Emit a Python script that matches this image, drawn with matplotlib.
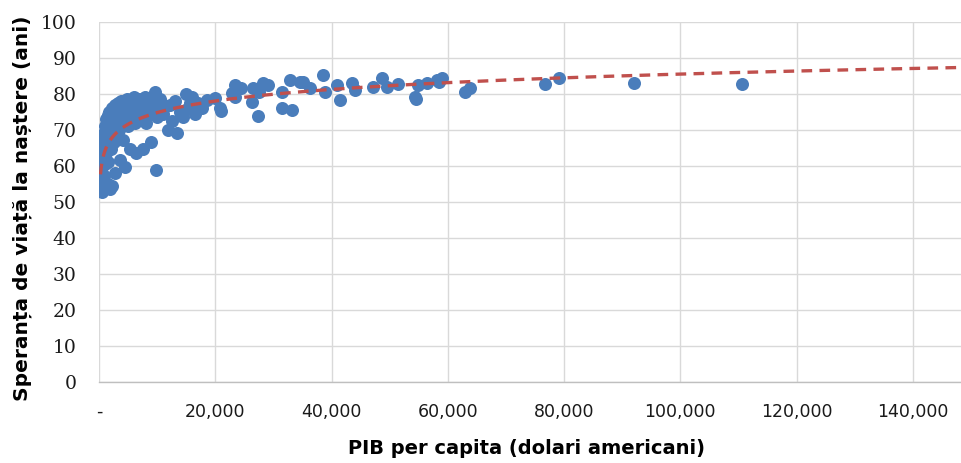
import numpy as np
import matplotlib
matplotlib.use("Agg")
import matplotlib.pyplot as plt
from matplotlib.ticker import FuncFormatter

# PIB per capita (USD) si speranta de viata (ani)
pib = [
    250, 300, 400, 450, 500, 550, 600, 650, 700, 750, 800, 850, 900, 950,
    1000, 1050, 1100, 1150, 1200, 1300, 1350, 1400, 1450, 1500, 1550, 1600,
    1700, 1800, 1900, 1950, 2000, 2100, 2200, 2300, 2400, 2500, 2600, 2700,
    2800, 2900, 3000, 3100, 600, 1000, 1500, 900,
    3200, 3400, 3500, 3600, 3700, 3800, 4000, 4100, 4200, 4400, 4500, 4600,
    4800, 5000, 5200, 5400, 5500, 5600, 5800, 6000, 6200, 6300, 6500, 6700,
    6900, 7100, 7300, 7500, 7700, 7900, 8100, 8300, 8500, 8800, 9000, 9200,
    9400, 9600, 9800, 10000, 10200,
    10500, 11000, 11500, 11800, 12200, 12500, 13000, 13400, 14000, 14400,
    15000, 15300, 15600, 16000, 16500, 17000, 17700, 18600, 20000, 20800, 21000,
    22900, 23400, 23400, 24500, 26300, 26500, 27300, 27500, 28200, 29000,
    31500, 31500, 33200, 32900, 34600,
    35100, 36300, 38500, 38900, 40900, 41400, 43500, 44000, 47200, 48600,
    49500, 51400, 54300, 54600, 54900, 56400, 58100, 59000, 58500, 63000, 63800,
    76700, 79100, 92000, 110600,
]
speranta = [
    61.5, 53.0, 54.5, 58.0, 63.0, 66.0, 60.0, 67.5, 55.5, 64.0, 69.0, 62.0, 57.0, 65.5,
    71.0, 60.5, 67.0, 73.0, 63.5, 69.5, 54.0, 72.0, 65.0, 74.0, 61.0, 70.5,
    67.5, 75.0, 53.5, 72.5, 64.5, 69.0, 76.0, 54.4, 71.5, 74.0, 66.5, 77.0,
    58.0, 73.0, 69.5, 75.5, 52.8, 54.0, 55.0, 55.5,
    77.5, 70.0, 76.0, 61.5, 73.5, 78.0, 75.0, 67.0, 72.0, 76.5, 59.5, 74.0,
    78.5, 71.0, 76.0, 64.5, 73.0, 77.5, 75.0, 79.0, 72.0, 63.5, 76.5, 74.5,
    78.5, 73.0, 77.0, 64.5, 75.5, 79.0, 72.0, 76.5, 74.0, 78.0, 66.5, 75.0,
    77.0, 80.5, 58.8, 73.5, 76.0,
    78.5, 74.5, 76.5, 70.0, 77.0, 72.5, 78.0, 69.0, 75.0, 73.5,
    80.0, 76.0, 77.5, 79.0, 74.5, 77.5, 76.0, 78.2, 78.8, 76.0, 75.3,
    80.2, 82.4, 79.1, 81.5, 77.7, 81.6, 73.8, 80.5, 83.0, 82.5,
    80.5, 76.0, 75.5, 83.8, 83.2,
    83.2, 81.6, 85.2, 80.5, 82.4, 78.2, 83.0, 81.0, 81.8, 84.4,
    81.8, 82.8, 79.0, 78.5, 82.4, 83.0, 83.8, 84.4, 83.3, 80.5, 81.6,
    82.7, 84.3, 83.0, 82.7,
]

x_ticks = [0, 20000, 40000, 60000, 80000, 100000, 120000, 140000]
y_ticks = [0, 10, 20, 30, 40, 50, 60, 70, 80, 90, 100]

pib = np.array(pib)
speranta = np.array(speranta)

# linie de tendinta logaritmica, ca in Excel
a, b = np.polyfit(np.log(pib), speranta, 1)
xt = np.geomspace(pib.min(), 150000, 400)
yt = a * np.log(xt) + b

fig = plt.figure(figsize=(9.61, 4.63), dpi=100)
ax = fig.add_axes([99 / 961, 81.3 / 463, 872 / 961, 360 / 463])

ax.scatter(pib, speranta, s=88, color="#4a7dbb", zorder=3, linewidths=0)
ax.plot(xt, yt, color="#c0504d", lw=2.4, dashes=(3.2, 2.2), zorder=4)

ax.set_xlim(0, 150000)
ax.set_ylim(0, 100)
ax.set_xticks(x_ticks)
ax.set_yticks(y_ticks)
ax.xaxis.set_major_formatter(FuncFormatter(lambda v, p: "-" if v == 0 else f"{v:,.0f}"))
ax.grid(True, color="#d9d9d9", lw=1.0, zorder=0)
ax.set_axisbelow(True)
for s in ["top", "right", "left"]:
    ax.spines[s].set_visible(False)
ax.spines["bottom"].set_color("#bfbfbf")
ax.spines["bottom"].set_linewidth(1.0)
ax.tick_params(axis="both", length=0, colors="#1a1a1a")
ax.tick_params(axis="x", pad=15, labelsize=12.5)
ax.tick_params(axis="y", pad=16, labelsize=13.5)
for t in ax.get_yticklabels():
    t.set_fontfamily("DejaVu Serif")

fig.text(526 / 961, 1 - 448 / 463, "PIB per capita (dolari americani)",
         ha="center", va="center", fontsize=14, fontweight="bold")
fig.text(22 / 961, 1 - 208 / 463, "Speranța de viață la naștere (ani)",
         ha="center", va="center", rotation=90, fontsize=14.5, fontweight="bold")

fig.savefig("out.png", dpi=100)
